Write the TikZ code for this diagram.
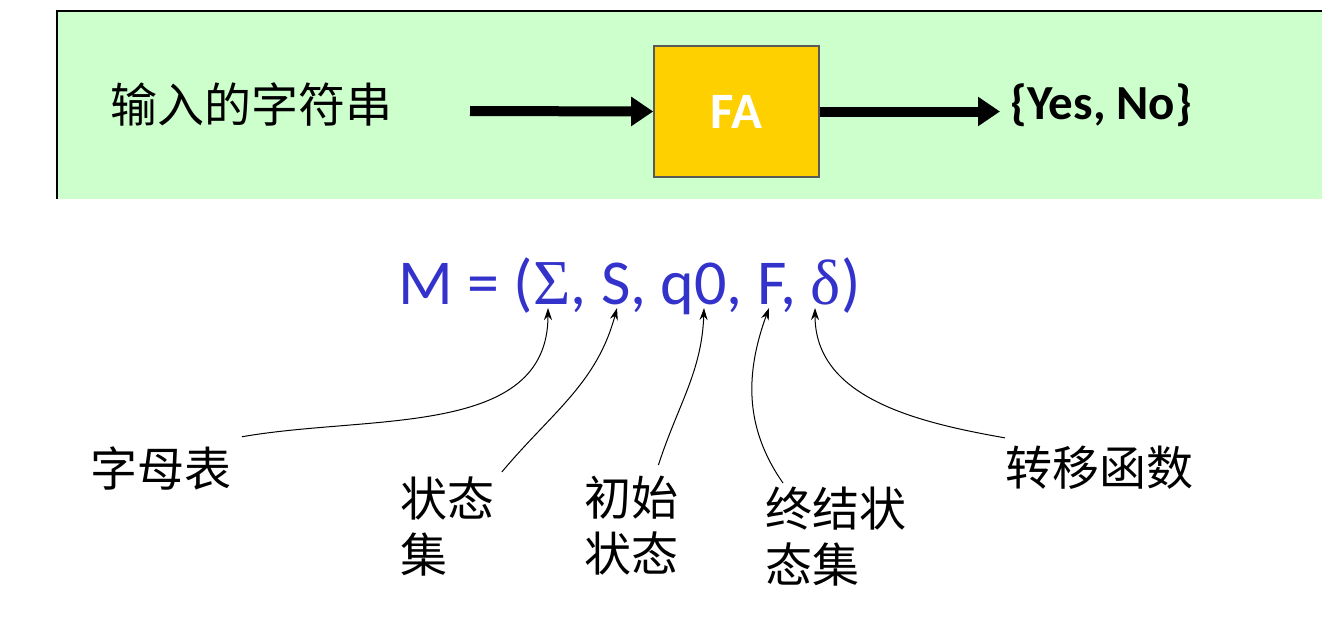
\documentclass[tikz,border=0pt]{standalone}
\usepackage{fontspec}
\setmainfont{Carlito}
\newfontfamily\cjk{Noto Sans CJK SC}
\newfontfamily\symfont{Liberation Serif}
\usetikzlibrary{arrows.meta, positioning}
\definecolor{mintbg}{HTML}{CCFFCC}
\definecolor{fayellow}{HTML}{FFD000}
\definecolor{tupleblue}{HTML}{3333CC}

\begin{document}
\begin{tikzpicture}[
  x=0.5pt, y=-0.5pt,
  fabox/.style={
    rectangle, draw=black!65, fill=fayellow,
    line width=0.8pt,
    minimum width=82.5pt, minimum height=65.5pt,
    text=white, font=\fontsize{25.5}{30}\selectfont\bfseries
  },
  cjklbl/.style={font=\cjk\fontsize{23.5}{28}\selectfont, align=left, inner sep=0pt},
  flow/.style={-{Triangle[length=11pt, width=14pt]}, line width=5pt},
  pointer/.style={-{Stealth[length=6pt, width=4pt]}, line width=0.5pt}
]
  \useasboundingbox (0,0) rectangle (1337,617);

  % top panel
  \fill[mintbg] (57,11) rectangle (1322,199);
  \draw[line width=1pt] (57,199) -- (57,11) -- (1322,11);

  \node[cjklbl, anchor=west] (input) at (110,104) {输入的字符串};
  \node[fabox] (fa) at (736.5,111.5) {FA};
  \node[anchor=west, inner sep=5pt, font=\fontsize{24.5}{28}\selectfont\bfseries] (yesno) at (1000,105) {\{Yes, No\}};

  \coordinate (src) at (470,111);
  \draw[flow] (src) -- (fa.west);
  \draw[flow] (fa.east) -- (fa.east -| yesno.west);

  % the tuple
  \node[anchor=base west, inner sep=0pt, text=tupleblue, font=\fontsize{32}{38}\selectfont] (tuple) at (398,304)
    {M = ({\symfont Σ}, S, q0, F, {\symfont δ})};

  \coordinate (sig) at (548,308);
  \coordinate (st)  at (617,308);
  \coordinate (q0)  at (704,308);
  \coordinate (fin) at (769,308);
  \coordinate (del) at (815,308);

  \node[cjklbl, anchor=west] (alpha) at (90,468) {字母表};
  \node[cjklbl, anchor=north west] (states) at (400,476) {状态\\集};
  \node[cjklbl, anchor=north west] (init) at (584,476) {初始\\状态};
  \node[cjklbl, anchor=north west] (final) at (765,487) {终结状\\态集};
  \node[cjklbl, anchor=west] (trans) at (1005,468) {转移函数};

  \draw[pointer] ([shift={(10,-9)}]alpha.north east) to[out=10, in=-90] (sig);
  \draw[pointer] ([shift={(7,-4)}]states.north east) to[out=50, in=-105] (st);
  \draw[pointer] ([shift={(27,-11)}]init.north) to[out=72, in=-92] (q0);
  \draw[pointer] ([shift={(18,-4)}]final.north west) to[out=125, in=-110] (fin);
  \draw[pointer] ([shift={(0,-8)}]trans.north west) to[out=170, in=-90] (del);
\end{tikzpicture}
\end{document}
